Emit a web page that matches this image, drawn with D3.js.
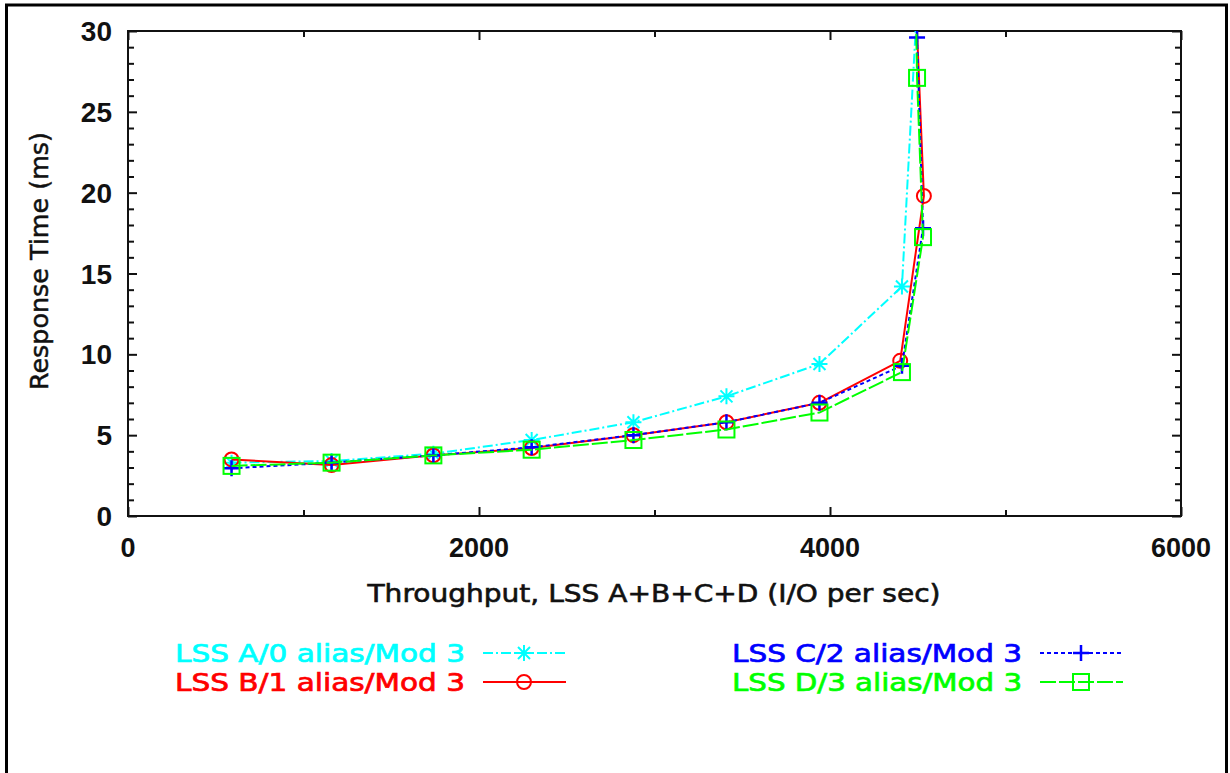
<!DOCTYPE html>
<meta charset="utf-8">
<script src="https://d3js.org/d3.v7.min.js"></script>
<style>
body { margin: 0; background: #fff; }
svg text { fill: #111; }
</style>
<div id="chart"></div>
<script>

// series data
var names = ["LSS A/0 alias/Mod 3", "LSS B/1 alias/Mod 3", "LSS C/2 alias/Mod 3", "LSS D/3 alias/Mod 3"];
var colors = ["#00ffff", "#ff0000", "#0000ff", "#00ff00"];

var xA = [590, 1160, 1740, 2300, 2880, 3410, 3940, 4410, 4490];
var yA = [3.3, 3.4, 3.85, 4.7, 5.8, 7.4, 9.4, 14.2, 30.5];

var xB = [590, 1160, 1740, 2300, 2880, 3410, 3940, 4400, 4535, 4490];
var yB = [3.5, 3.15, 3.75, 4.2, 5.0, 5.8, 7.0, 9.6, 19.8, 31.5];

var xC = [590, 1160, 1740, 2300, 2880, 3410, 3940, 4410, 4530, 4496];
var yC = [2.95, 3.3, 3.75, 4.25, 5.0, 5.8, 7.0, 9.3, 17.8, 29.6];

var xD = [590, 1160, 1740, 2300, 2880, 3410, 3940, 4410, 4530, 4496, 4490];
var yD = [3.1, 3.3, 3.75, 4.1, 4.7, 5.35, 6.4, 8.9, 17.25, 27.1, 31];

var xTicks = [0, 2000, 4000, 6000];
var xMinor = [1000, 3000, 5000];
var yTicks = [0, 5, 10, 15, 20, 25, 30];

var W = 1230, H = 773;
var margin = {top: 31, right: 49, bottom: 257, left: 128};
var width = W - margin.left - margin.right,
    height = H - margin.top - margin.bottom;

var svg = d3.select("#chart").append("svg")
    .attr("width", W).attr("height", H);

// outer frame
svg.append("rect")
    .attr("x", 6.5).attr("y", 5).attr("width", 1220).attr("height", 790)
    .attr("fill", "none").attr("stroke", "#000").attr("stroke-width", 3);

var g = svg.append("g")
    .attr("transform", "translate(" + margin.left + "," + margin.top + ")");

var x = d3.scaleLinear().domain([0, 6000]).range([0, width]);
var y = d3.scaleLinear().domain([0, 30]).range([height, 0]);

// ticks on all four sides, pointing inward
var yMinor = d3.range(0, 31, 1).filter(function(d) { return d % 5 != 0; });

function tickAxis(axisFn, scale, vals, size, tr) {
  var a = g.append("g").attr("transform", tr)
    .call(axisFn(scale).tickValues(vals).tickSize(size).tickFormat(""));
  a.select(".domain").remove();
  a.selectAll("line").attr("stroke", "#111").attr("stroke-width", 2);
}
tickAxis(d3.axisBottom, x, xTicks, -9, "translate(0," + height + ")");
tickAxis(d3.axisBottom, x, xMinor, -6, "translate(0," + height + ")");
tickAxis(d3.axisTop, x, xTicks, -9, "translate(0,0)");
tickAxis(d3.axisTop, x, xMinor, -6, "translate(0,0)");
tickAxis(d3.axisLeft, y, yTicks, -9, "translate(0,0)");
tickAxis(d3.axisLeft, y, yMinor, -6, "translate(0,0)");
tickAxis(d3.axisRight, y, yTicks, -9, "translate(" + width + ",0)");
tickAxis(d3.axisRight, y, yMinor, -6, "translate(" + width + ",0)");

// tick labels
g.selectAll(".xl").data(xTicks).enter().append("text")
    .attr("x", function(d) { return x(d); })
    .attr("y", height + 41)
    .attr("text-anchor", "middle")
    .style("font", "bold 27px 'Liberation Sans', Arial, sans-serif")
    .text(function(d) { return d; });

g.selectAll(".yl").data(yTicks).enter().append("text")
    .attr("x", -16)
    .attr("y", function(d) { return y(d) + 10; })
    .attr("text-anchor", "end")
    .style("font", "bold 28px 'Liberation Sans', Arial, sans-serif")
    .text(function(d) { return d; });

// plot frame
g.append("rect")
    .attr("width", width).attr("height", height)
    .attr("fill", "none").attr("stroke", "#111").attr("stroke-width", 2);

// axis titles
svg.append("text")
    .attr("x", 654).attr("y", 602)
    .attr("text-anchor", "middle")
    .attr("textLength", 573).attr("lengthAdjust", "spacingAndGlyphs")
    .style("font", "24px 'DejaVu Sans', sans-serif")
    .style("stroke", "#111").style("stroke-width", 0.6)
    .text("Throughput, LSS A+B+C+D (I/O per sec)");

svg.append("text")
    .attr("transform", "translate(48,261) rotate(-90)")
    .attr("text-anchor", "middle")
    .attr("textLength", 258).attr("lengthAdjust", "spacingAndGlyphs")
    .style("font", "24px 'DejaVu Sans', sans-serif")
    .style("stroke", "#111").style("stroke-width", 0.5)
    .text("Response Time (ms)");

// clip to the plot area
g.append("clipPath").attr("id", "clip")
  .append("rect").attr("width", width).attr("height", height);

var dashes = ["10,3,2,3", null, "4,3", "16,3"];

// marker shapes
function marker(sel, k, col) {
  if (k == 0) {        // asterisk
    sel.append("path").attr("d", "M-8,0H8M0,-8V8M-6,-6L6,6M-6,6L6,-6")
      .attr("stroke", col).attr("stroke-width", 2).attr("fill", "none");
  } else if (k == 1) { // circle
    sel.append("circle").attr("r", 7)
      .attr("stroke", col).attr("stroke-width", 2).attr("fill", "none");
  } else if (k == 2) { // plus
    sel.append("path").attr("d", "M-8,0H8M0,-8V8")
      .attr("stroke", col).attr("stroke-width", 2.5).attr("fill", "none");
  } else {             // square
    sel.append("rect").attr("x", -8).attr("y", -8).attr("width", 16).attr("height", 16)
      .attr("stroke", col).attr("stroke-width", 2).attr("fill", "none");
  }
}

var allX = [xA, xB, xC, xD], allY = [yA, yB, yC, yD];
var line = d3.line().x(function(d) { return x(d[0]); }).y(function(d) { return y(d[1]); });

var plot = g.append("g").attr("clip-path", "url(#clip)");
allX.forEach(function(xs, k) {
  var pts = xs.map(function(v, i) { return [v, allY[k][i]]; });
  plot.append("path").datum(pts)
    .attr("d", line)
    .attr("fill", "none")
    .attr("stroke", colors[k])
    .attr("stroke-width", 2)
    .attr("stroke-dasharray", dashes[k]);
  pts.forEach(function(p) {
    var m = plot.append("g").attr("transform", "translate(" + x(p[0]) + "," + y(p[1]) + ")");
    marker(m, k, colors[k]);
  });
});

// legend
var legX = [465, 1022], legY = [653, 682];
names.forEach(function(n, k) {
  var col = k == 0 || k == 1 ? 0 : 1;
  var row = k % 2;
  var lx = legX[col], ly = legY[row];
  svg.append("text")
    .attr("x", lx).attr("y", ly + 9)
    .attr("text-anchor", "end")
    .attr("textLength", 290).attr("lengthAdjust", "spacingAndGlyphs")
    .style("font", "24px 'DejaVu Sans', sans-serif")
    .style("fill", colors[k])
    .style("stroke", colors[k]).style("stroke-width", 0.7)
    .text(n);
  svg.append("line")
    .attr("x1", lx + 18).attr("x2", lx + 101)
    .attr("y1", ly).attr("y2", ly)
    .attr("stroke", colors[k]).attr("stroke-width", 2)
    .attr("stroke-dasharray", dashes[k]);
  var m = svg.append("g").attr("transform", "translate(" + (lx + 59) + "," + ly + ")");
  marker(m, k, colors[k]);
});

</script>
